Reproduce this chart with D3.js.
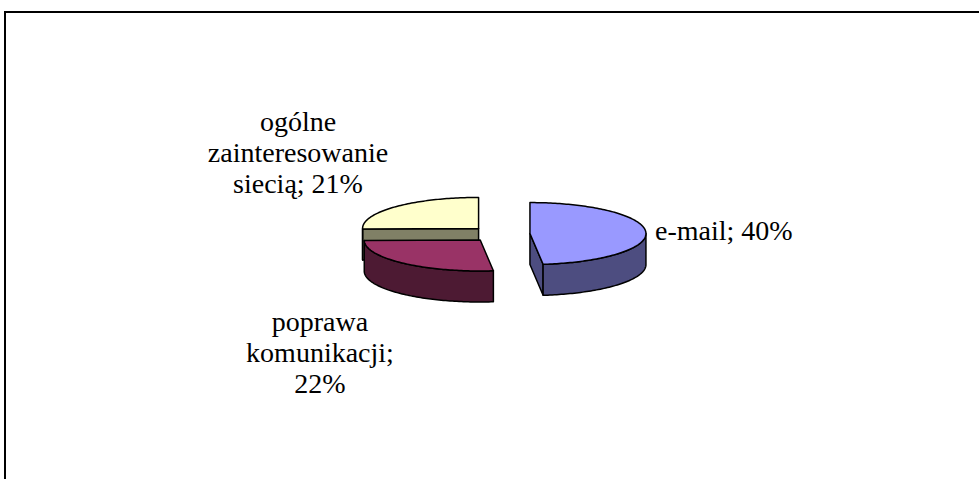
<!DOCTYPE html>
<html>
<head>
<meta charset="utf-8">
<script src="https://cdn.jsdelivr.net/npm/d3@7"></script>
<style>
  html, body { margin: 0; background: #fff; overflow: hidden; }
  svg { display: block; }
</style>
</head>
<body>
<div class="chart"></div>
<script>
// values as shown on the labels (the pie normalises them itself)
const categories = ["e-mail", "poprawa komunikacji", "ogólne zainteresowanie siecią"];
const values = [40, 22, 21];

const width = 979, height = 479;
const cx = 500, cy = 234;     // pie centre before explode
const rx = 116, tilt = 0.267;  // ellipse: ry = rx * tilt
const depth = 31, explode = 30;
const font = "Liberation Serif";
const fontSize = 28, lineH = 31;

const topColor = d3.scaleOrdinal(categories, ["#9999ff", "#993366", "#ffffcc"]);
const sideColor = d3.scaleOrdinal(categories, ["#4d4d80", "#4d1a33", "#808066"]);

const svg = d3.select(".chart").append("svg")
  .attr("width", width).attr("height", height);

// chart area frame, only top and left edges are in view
svg.append("path")
  .attr("d", "M5," + height + "V12H" + width)
  .attr("fill", "none").attr("stroke", "#000").attr("stroke-width", 2);

const pie = d3.pie().value((d, i) => values[i]).sort(null);
const slices = pie(categories);

const line = d3.line().curve(d3.curveLinearClosed);

function offset(d) {
  const mid = (d.startAngle + d.endAngle) / 2;
  return [cx + explode * Math.sin(mid), cy - explode * Math.cos(mid) * tilt];
}
function pt(o, a, r, z) {
  return [o[0] + r * Math.sin(a), o[1] - r * Math.cos(a) * tilt + z];
}
function arcPts(o, a0, a1, z) {
  const n = Math.max(2, Math.ceil(Math.abs(a1 - a0) / 0.02));
  return d3.range(n + 1).map(i => pt(o, a0 + (a1 - a0) * i / n, rx, z));
}

// back slices first
const order = slices.slice().sort((a, b) =>
  -Math.cos((a.startAngle + a.endAngle) / 2) + Math.cos((b.startAngle + b.endAngle) / 2));

const sides = svg.append("g");
const tops = svg.append("g");

order.forEach(d => {
  const o = offset(d);
  const faces = [];
  // cut faces
  if (Math.sin(d.startAngle) < -1e-6) {
    faces.push([pt(o, 0, 0, 0), pt(o, d.startAngle, rx, 0), pt(o, d.startAngle, rx, depth), pt(o, 0, 0, depth)]);
  }
  if (Math.sin(d.endAngle) > 1e-6) {
    faces.push([pt(o, 0, 0, 0), pt(o, d.endAngle, rx, 0), pt(o, d.endAngle, rx, depth), pt(o, 0, 0, depth)]);
  }
  // outer rim, front half only
  const a0 = Math.max(d.startAngle, Math.PI / 2), a1 = Math.min(d.endAngle, Math.PI * 1.5);
  if (a1 > a0) {
    faces.push(arcPts(o, a0, a1, 0).concat(arcPts(o, a1, a0, depth)));
  }
  sides.selectAll(null).data(faces).enter().append("path")
    .attr("d", f => line(f))
    .attr("fill", sideColor(d.data))
    .attr("stroke", "#000").attr("stroke-width", 1.5).attr("stroke-linejoin", "round");

  tops.append("path")
    .attr("d", line([pt(o, 0, 0, 0)].concat(arcPts(o, d.startAngle, d.endAngle, 0))))
    .attr("fill", topColor(d.data))
    .attr("stroke", "#000").attr("stroke-width", 1.5).attr("stroke-linejoin", "round");
});

// labels
const labelPos = [
  {x: 655, y: 240, anchor: "start", wrap: Infinity},
  {x: 320, y: 331, anchor: "middle", wrap: 190},
  {x: 298, y: 131, anchor: "middle", wrap: 190}
];

function wrapText(str, maxW) {
  const probe = svg.append("text").attr("font-family", font).attr("font-size", fontSize);
  const words = str.split(" ");
  const lines = [];
  let cur = [];
  words.forEach(w => {
    probe.text(cur.concat(w).join(" "));
    if (cur.length && probe.node().getComputedTextLength() > maxW) {
      lines.push(cur.join(" "));
      cur = [w];
    } else cur.push(w);
  });
  lines.push(cur.join(" "));
  probe.remove();
  return lines;
}

slices.forEach((d, i) => {
  const p = labelPos[i];
  const lines = wrapText(d.data + "; " + values[i] + "%", p.wrap);
  const t = svg.append("text")
    .attr("font-family", font).attr("font-size", fontSize)
    .attr("text-anchor", p.anchor).attr("fill", "#000");
  t.selectAll("tspan").data(lines).enter().append("tspan")
    .attr("x", p.x).attr("y", (l, j) => p.y + j * lineH)
    .text(l => l);
});
</script>
</body>
</html>
